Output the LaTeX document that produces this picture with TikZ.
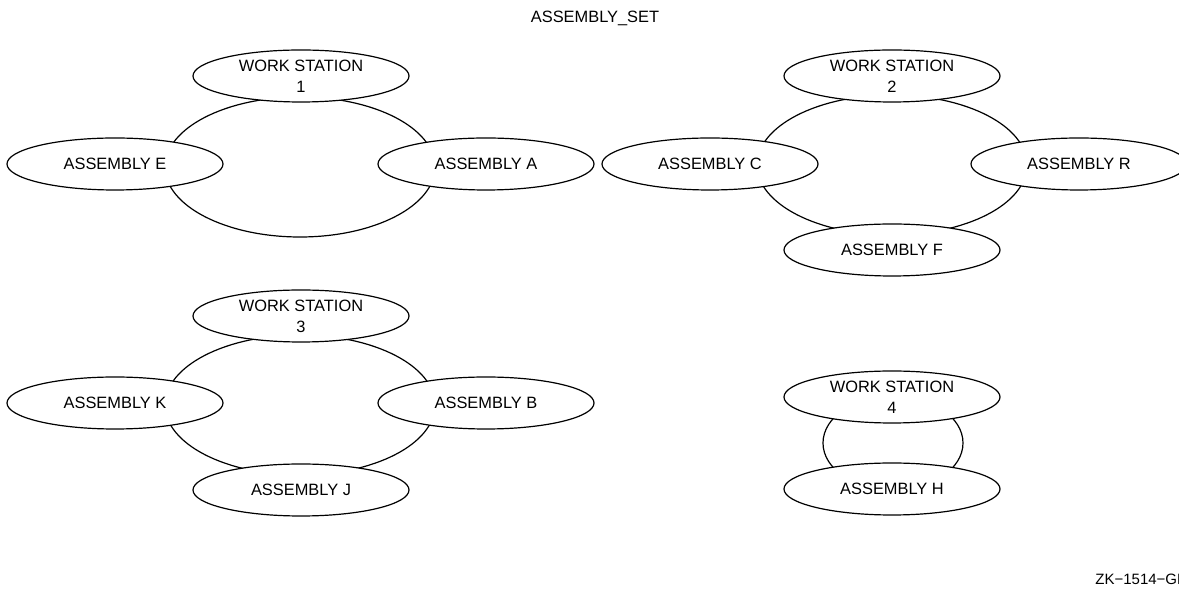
\documentclass[tikz,border=0pt]{standalone}
\usepackage{fontspec}
\setmainfont{Liberation Sans}
\usetikzlibrary{shapes.geometric}

\begin{document}
\begin{tikzpicture}[x=0.5pt, y=-0.5pt,
    station/.style={ellipse, draw, fill=white, line width=0.6pt,
        minimum width=108pt, minimum height=26pt, inner sep=0pt,
        align=center, font=\fontsize{8.2}{10.5}\selectfont},
    ring/.style={line width=0.6pt}]

    \useasboundingbox (0,0) rectangle (1179,592);

    % 環の中心
    \coordinate (ring1) at (300,167);
    \coordinate (ring2) at (892,165);
    \coordinate (ring3) at (300,405);
    \coordinate (ring4) at (893,443);

    % 環 (楕円の背後)
    \foreach \r in {1,2,3} {
        \draw[ring] (ring\r) ellipse [x radius=135, y radius=70];
    }
    \draw[ring] (ring4) ellipse [x radius=70, y radius=47];

    % タイトル
    \node[font=\fontsize{8.2}{10}\selectfont] (title) at (595,18) {ASSEMBLY\_SET};

    % ワークステーション 1
    \node[station] (ws1)  at (301,76)  {WORK STATION\\1};
    \node[station] (asmE) at (115,164) {ASSEMBLY E};
    \node[station] (asmA) at (486,164) {ASSEMBLY A};

    % ワークステーション 2
    \node[station] (ws2)  at (892,76)   {WORK STATION\\2};
    \node[station] (asmC) at (710,164)  {ASSEMBLY C};
    \node[station] (asmR) at (1079,164) {ASSEMBLY R};
    \node[station] (asmF) at (892,250)  {ASSEMBLY F};

    % ワークステーション 3
    \node[station] (ws3)  at (301,316) {WORK STATION\\3};
    \node[station] (asmK) at (115,403) {ASSEMBLY K};
    \node[station] (asmB) at (486,403) {ASSEMBLY B};
    \node[station] (asmJ) at (301,490) {ASSEMBLY J};

    % ワークステーション 4
    \node[station] (ws4)  at (892,397) {WORK STATION\\4};
    \node[station] (asmH) at (892,489) {ASSEMBLY H};

    % 図番号
    \node[anchor=west, inner sep=0pt, font=\fontsize{7.5}{9}\selectfont] (zk) at (1095,579) {ZK−1514−GE};

\end{tikzpicture}
\end{document}
